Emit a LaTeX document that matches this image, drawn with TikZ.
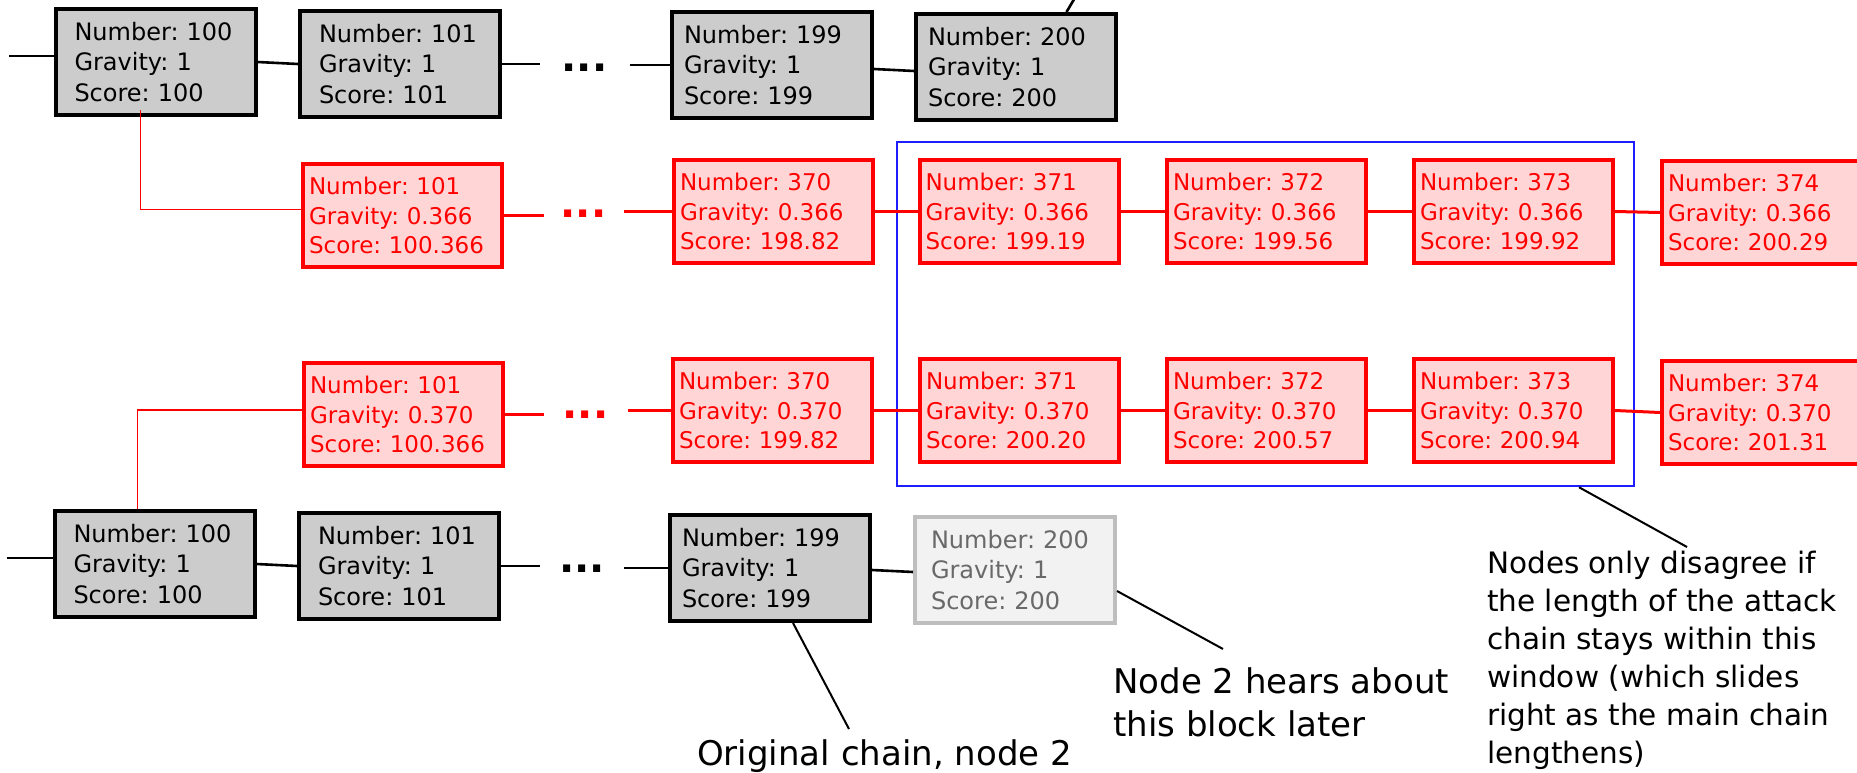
\documentclass[tikz,border=0pt]{standalone}
\usepackage{fontspec}
\setmainfont{DejaVu Sans}
\frenchspacing
\definecolor{boxgray}{RGB}{204,204,204}
\definecolor{boxpink}{RGB}{255,213,213}
\definecolor{lightfill}{RGB}{242,242,242}
\definecolor{lightedge}{RGB}{190,190,190}
\definecolor{lighttext}{RGB}{105,105,105}
\definecolor{winblue}{RGB}{30,30,255}
\tikzset{
  chainbox/.style={draw, line width=4pt, anchor=north west, align=left, inner ysep=0pt},
  gbox/.style={chainbox, draw=black, fill=boxgray, text=black,
    font=\fontsize{24}{30.5}\selectfont\frenchspacing, inner xsep=19pt, text width=162pt, minimum height=106pt},
  gboxn/.style={gbox, inner xsep=12pt, text width=176pt},
  lbox/.style={chainbox, draw=lightedge, fill=lightfill, text=lighttext,
    font=\fontsize{24}{30.5}\selectfont\frenchspacing, inner xsep=16pt, text width=168pt, minimum height=106pt},
  rbox/.style={chainbox, draw=red, fill=boxpink, text=red,
    font=\fontsize{23}{29.3}\selectfont\frenchspacing, inner xsep=6pt, text width=187pt, minimum height=103pt,
    yshift=2pt},
  ellipsis/.style={anchor=base, inner ysep=0pt, font=\fontsize{40}{40}\selectfont\bfseries},
  link/.style={line width=2.6pt},
  rlink/.style={red, line width=3pt},
  fork/.style={red, line width=1.8pt},
  leader/.style={line width=2pt},
  note/.style={inner sep=0pt, align=left},
}
\begin{document}
\begin{tikzpicture}[x=1pt, y=-1pt]
\useasboundingbox[fill=white] (0,0) rectangle (1857,773);

% sliding window around the contested blocks
\node[draw=winblue, line width=2.5pt, minimum width=737pt, minimum height=344pt, inner sep=0pt]
  (win) at (1265.5,314) {};

% original chain, node 1
\node[gbox]  (T100) at (53.5,7)  {Number: 100\\Gravity: 1\\Score: 100};
\node[gbox]  (T101) at (298,9)   {Number: 101\\Gravity: 1\\Score: 101};
\node[ellipsis, inner xsep=22pt] (dT) at (584.5,72) {...};
\node[gboxn] (T199) at (670,10)  {Number: 199\\Gravity: 1\\Score: 199};
\node[gboxn] (T200) at (914,12)  {Number: 200\\Gravity: 1\\Score: 200};

% attack chain, gravity 0.366
\node[rbox] (Ra101) at (301,164)   {Number: 101\\Gravity: 0.366\\Score: 100.366};
\node[ellipsis, red, inner xsep=17pt] (dRa) at (583.5,217) {...};
\node[rbox] (Ra370) at (672,160)   {Number: 370\\Gravity: 0.366\\Score: 198.82};
\node[rbox] (Ra371) at (917.5,160) {Number: 371\\Gravity: 0.366\\Score: 199.19};
\node[rbox] (Ra372) at (1165,160)  {Number: 372\\Gravity: 0.366\\Score: 199.56};
\node[rbox] (Ra373) at (1412,160)  {Number: 373\\Gravity: 0.366\\Score: 199.92};
\node[rbox] (Ra374) at (1660,161)  {Number: 374\\Gravity: 0.366\\Score: 200.29};

% attack chain, gravity 0.370
\node[rbox] (Rb101) at (302,363)   {Number: 101\\Gravity: 0.370\\Score: 100.366};
\node[ellipsis, red, inner xsep=19pt] (dRb) at (585.5,418) {...};
\node[rbox] (Rb370) at (671,359)   {Number: 370\\Gravity: 0.370\\Score: 199.82};
\node[rbox] (Rb371) at (918,359)   {Number: 371\\Gravity: 0.370\\Score: 200.20};
\node[rbox] (Rb372) at (1165,359)  {Number: 372\\Gravity: 0.370\\Score: 200.57};
\node[rbox] (Rb373) at (1412,359)  {Number: 373\\Gravity: 0.370\\Score: 200.94};
\node[rbox] (Rb374) at (1660,361)  {Number: 374\\Gravity: 0.370\\Score: 201.31};

% original chain, node 2
\node[gbox]  (B100) at (52.5,509) {Number: 100\\Gravity: 1\\Score: 100};
\node[gbox]  (B101) at (297,511)  {Number: 101\\Gravity: 1\\Score: 101};
\node[ellipsis, inner xsep=19pt] (dB) at (582,572) {...};
\node[gboxn] (B199) at (668,513)  {Number: 199\\Gravity: 1\\Score: 199};
\node[lbox]  (B200) at (913,515)  {Number: 200\\Gravity: 1\\Score: 200};

% annotations
\node[note, anchor=base west, font=\fontsize{34}{43.5}\selectfont] (n1) at (697,765)
  {Original chain, node 2};
\node[note, anchor=north west, font=\fontsize{34}{43.5}\selectfont] (n2) at (1113,667)
  {Node 2 hears about\\this block later};
\node[note, anchor=north west, font=\fontsize{29.5}{38}\selectfont] (n3) at (1487,551)
  {Nodes only disagree if\\the length of the attack\\chain stays within this\\window (which slides\\right as the main chain\\lengthens)};

% free ends of the chains
\coordinate (inT) at (9,56);
\coordinate (inB) at (7,558);
\coordinate (upT) at (1076,-4);
\coordinate (tip1) at (849,729);
\coordinate (tip2) at (1223,649);
\coordinate (tip3) at (1687,547);

% top chain links
\draw[link] (inT) -- (inT -| T100.west);
\draw[link] (T100.east) -- (T101.west);
\draw[link] (T101.east) -- (T101.east -| dT.west);
\draw[link] (dT.east |- T199.west) -- (T199.west);
\draw[link] ([yshift=-4pt]T199.east) -- ([yshift=-4pt]T200.west);
\draw[link] ([xshift=50.5pt]T200.north) -- (upT);

% attack chain 0.366 links
\draw[fork] ([xshift=-15pt,yshift=7pt]T100.south) |- ([yshift=6pt]Ra101.west);
\draw[rlink] (Ra101.east) -- (Ra101.east -| dRa.west);
\draw[rlink] (dRa.east |- Ra370.west) -- (Ra370.west);
\draw[rlink] (Ra370.east) -- (Ra371.west);
\draw[rlink] (Ra371.east) -- (Ra372.west);
\draw[rlink] (Ra372.east) -- (Ra373.west);
\draw[rlink] (Ra373.east) -- (Ra374.west);

% attack chain 0.370 links
\draw[fork] ([xshift=-17pt]B100.north) |- ([yshift=4.5pt]Rb101.west);
\draw[rlink] (Rb101.east) -- (Rb101.east -| dRb.west);
\draw[rlink] (dRb.east |- Rb370.west) -- (Rb370.west);
\draw[rlink] (Rb370.east) -- (Rb371.west);
\draw[rlink] (Rb371.east) -- (Rb372.west);
\draw[rlink] (Rb372.east) -- (Rb373.west);
\draw[rlink] (Rb373.east) -- (Rb374.west);

% bottom chain links
\draw[link] (inB) -- (inB -| B100.west);
\draw[link] (B100.east) -- (B101.west);
\draw[link] (B101.east) -- (B101.east -| dB.west);
\draw[link] (dB.east |- B199.west) -- (B199.west);
\draw[link] ([yshift=-2pt]B199.east) -- ([yshift=-2pt]B200.west);

% annotation leaders
\draw[leader] ([xshift=23pt]B199.south) -- (tip1);
\draw[leader] ([yshift=-21pt]B200.east) -- (tip2);
\draw[leader] ([xshift=313.5pt]win.south) -- (tip3);
\end{tikzpicture}
\end{document}
